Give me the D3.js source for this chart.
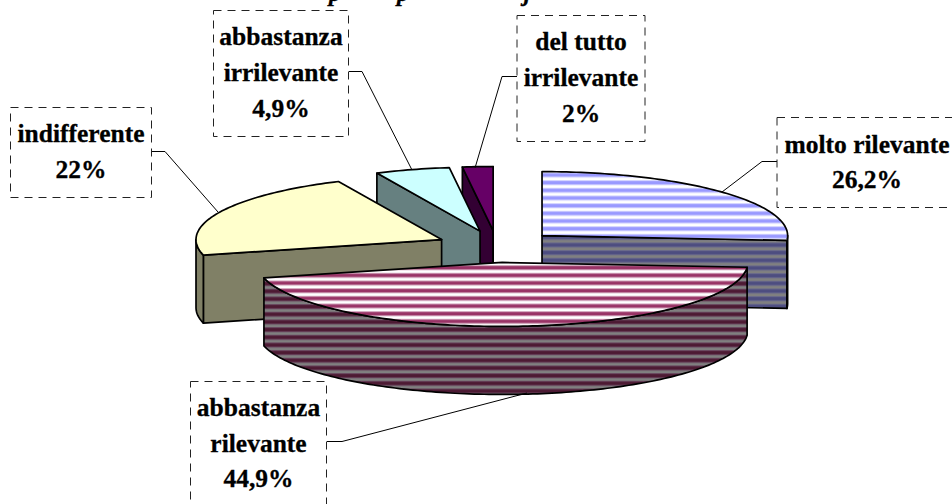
<!DOCTYPE html>
<html>
<head>
<meta charset="utf-8">
<script src="https://cdnjs.cloudflare.com/ajax/libs/d3/7.8.5/d3.min.js"></script>
<style>
html, body { margin: 0; padding: 0; background: #fff; overflow: hidden; }
text { font-family: "Liberation Serif", serif; font-weight: bold; fill: #000; stroke: #000; stroke-width: 0.3px; }
</style>
</head>
<body>
<div id="container"></div>
<script>
// share of answers, clockwise from 12 o'clock
var categories = [
    ['molto rilevante'],
    ['abbastanza', 'rilevante'],
    ['indifferente'],
    ['abbastanza', 'irrilevante'],
    ['del tutto', 'irrilevante']
]
var values = [26.2, 44.9, 22, 4.9, 2]

// only the descenders of the title survive at the top of the picture
var titleFragments = ['p', 'p', 'j']

// chart geometry
var width = 952, height = 504
var center = [497, 246.5]
var radiusX = 245.6, radiusY = 64
var depth = 68
var explode = 0.25

// back to front
var drawOrder = [0, 4, 3, 2, 1]

var topFills = ['url(#blueTop)', 'url(#wineTop)', '#ffffcc', '#ccffff', '#660066']
var sideFills = ['url(#blueSide)', 'url(#wineSide)', '#808066', '#668080', '#330033']

var titleX = [335, 403, 527]

var boxes = [
    { x: 777, y: 117, w: 180, h: 90, baselines: [153, 188], leader: [[777, 161.5], [762, 161.5], [722, 192]] },
    { x: 190.5, y: 381, w: 136, h: 126, baselines: [416, 452, 487], leader: [[327, 441.5], [342, 441.5], [527, 393]] },
    { x: 10.5, y: 107, w: 141, h: 90, baselines: [142, 178], leader: [[151, 151.5], [165, 151.5], [218, 212]] },
    { x: 213.5, y: 10, w: 135, h: 126, baselines: [45, 81, 117], leader: [[349, 71.5], [362, 71.5], [412, 170]] },
    { x: 517, y: 15, w: 128, h: 126, baselines: [50, 86, 122], leader: [[517, 76.5], [502, 76.5], [475, 168]] }
]

var svg = d3.select('#container').append('svg')
    .attr('width', width)
    .attr('height', height)
    .style('display', 'block')

// horizontal line fills
var stripePeriod = 7.67
function stripes(id, base, mid, band, offset) {
    var p = svg.append('defs').append('pattern')
        .attr('id', id)
        .attr('patternUnits', 'userSpaceOnUse')
        .attr('width', 8)
        .attr('height', stripePeriod)
        .attr('y', offset)
    p.append('rect').attr('width', 8).attr('height', stripePeriod).attr('fill', base)
    p.append('rect').attr('y', 2).attr('width', 8).attr('height', 5).attr('fill', mid)
    p.append('rect').attr('y', 3).attr('width', 8).attr('height', 3).attr('fill', band)
}
stripes('blueTop', '#ffffff', '#ccccff', '#9999ff', 178.2)
stripes('blueSide', '#808080', '#66668c', '#4d4d80', 240.5)
stripes('wineTop', '#ffffff', '#cc99b3', '#993366', 263.2)
stripes('wineSide', '#808080', '#66405a', '#4d1a33', 340.5)

var pie = d3.pie().sort(null).value(d => d)
var arcs = pie(values)

var line = d3.line()

function rimPoint(a, ox, oy) {
    return [ox + radiusX * Math.sin(a), oy - radiusY * Math.cos(a)]
}

function sampleArc(a0, a1, ox, oy) {
    var n = Math.max(2, Math.ceil(Math.abs(a1 - a0) / 0.02))
    return d3.range(n + 1).map(i => rimPoint(a0 + (a1 - a0) * i / n, ox, oy))
}

function down(pts) {
    return pts.map(p => [p[0], p[1] + depth])
}

function drawSlice(i) {
    var d = arcs[i]
    var mid = (d.startAngle + d.endAngle) / 2
    var ox = center[0] + explode * radiusX * Math.sin(mid)
    var oy = center[1] - explode * radiusY * Math.cos(mid)
    var apex = [ox, oy]
    var g = svg.append('g')
        .attr('stroke', '#000')
        .attr('stroke-width', 1.7)
        .attr('stroke-linejoin', 'round')

    // cut faces that look towards the viewer
    var cuts = []
    if (Math.sin(d.startAngle) < 0) cuts.push(d.startAngle)
    if (Math.sin(d.endAngle) > 0) cuts.push(d.endAngle)
    cuts.forEach(a => {
        var p = rimPoint(a, ox, oy)
        var face = [apex, p]
        g.append('path')
            .attr('d', line(face.concat(down(face).reverse())) + 'Z')
            .attr('fill', sideFills[i])
    })

    // outer wall, front half of the ellipse only
    var from = Math.max(d.startAngle, Math.PI / 2)
    var to = Math.min(d.endAngle, Math.PI * 1.5)
    if (from < to) {
        var rim = sampleArc(from, to, ox, oy)
        g.append('path')
            .attr('d', line(rim.concat(down(rim).reverse())) + 'Z')
            .attr('fill', sideFills[i])
    }

    var top = [apex].concat(sampleArc(d.startAngle, d.endAngle, ox, oy))
    g.append('path')
        .attr('d', line(top) + 'Z')
        .attr('fill', topFills[i])
}

drawOrder.forEach(drawSlice)

// leaders go under the boxes
boxes.forEach(b => {
    svg.append('path')
        .attr('d', line(b.leader))
        .attr('fill', 'none')
        .attr('stroke', '#000')
        .attr('stroke-width', 1)
})

boxes.forEach((b, i) => {
    svg.append('rect')
        .attr('x', b.x)
        .attr('y', b.y + 0.5)
        .attr('width', b.w)
        .attr('height', b.h)
        .attr('fill', 'none')
        .attr('stroke', '#222')
        .attr('stroke-width', 1)
        .attr('stroke-dasharray', '8,6')
    var lines = categories[i].concat([String(values[i]).replace('.', ',') + '%'])
    lines.forEach((t, k) => {
        svg.append('text')
            .attr('x', b.x + b.w / 2)
            .attr('y', b.baselines[k])
            .attr('text-anchor', 'middle')
            .style('font-size', '25.5px')
            .text(t)
    })
})

titleFragments.forEach((t, i) => {
    svg.append('text')
        .attr('x', titleX[i])
        .attr('y', 1)
        .attr('text-anchor', 'middle')
        .style('font-size', '24px')
        .style('font-style', 'italic')
        .text(t)
})
</script>
</body>
</html>
